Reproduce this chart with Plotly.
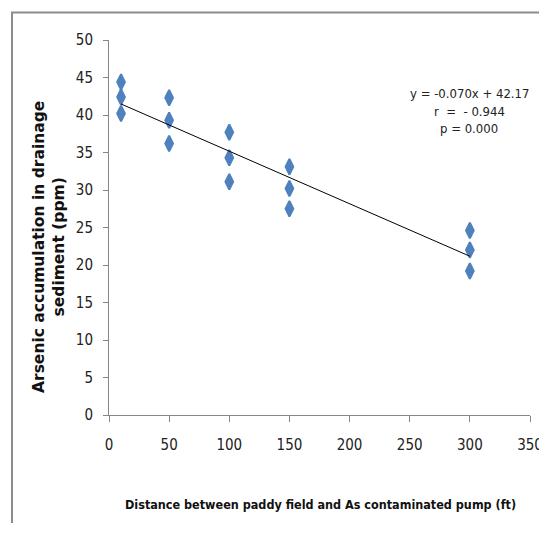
import plotly.graph_objects as go

distance_ft = [10, 10, 10, 50, 50, 50, 100, 100, 100, 150, 150, 150, 300, 300, 300]
arsenic_ppm = [44.4, 42.4, 40.2, 42.3, 39.3, 36.2, 37.7, 34.3, 31.1, 33.1, 30.2, 27.5, 24.6, 22.0, 19.2]
slope = -0.070
intercept = 42.17
trend_x = [min(distance_ft), max(distance_ft)]
trend_y = [slope * v + intercept for v in trend_x]
stats_lines = ["y = -0.070x + 42.17", "r  =  - 0.944", "p = 0.000"]
x_ticks = [0, 50, 100, 150, 200, 250, 300, 350]
y_ticks = [0, 5, 10, 15, 20, 25, 30, 35, 40, 45, 50]

narrow = "DejaVu Sans Condensed, Liberation Sans Narrow, sans-serif"

# page body has an 8px margin: figure pixel = window pixel - 8
W, H = 539, 515
L, R, T, B = 101, 522, 32, 407  # plot area in figure px


def px(xp):
    return (xp - 8 - L) / (R - L)


def py(yp):
    return (B - (yp - 8)) / (B - T)


fig = go.Figure()
fig.add_trace(go.Scatter(
    x=distance_ft, y=arsenic_ppm, mode="markers",
    marker=dict(symbol="diamond-tall", size=11, color="#4F81BD",
                line=dict(color="#4F81BD", width=2)),
    showlegend=False, hoverinfo="x+y"))
fig.add_trace(go.Scatter(
    x=trend_x, y=trend_y, mode="lines",
    line=dict(color="#000000", width=1), showlegend=False, hoverinfo="skip"))

fig.update_layout(
    width=W, height=H,
    margin=dict(l=L, r=W - R, t=T, b=H - B, autoexpand=False),
    paper_bgcolor="white", plot_bgcolor="white",
    font=dict(family=narrow, size=15, color="#222222"),
    xaxis=dict(range=[0, 350], tickvals=x_ticks, showgrid=False, zeroline=False,
               showline=True, linecolor="#868686", linewidth=1, automargin=False,
               ticks="outside", ticklen=6, tickcolor="#868686",
               ticklabelstandoff=10, ticklabeloverflow="allow",
               tickfont=dict(family=narrow, size=15)),
    yaxis=dict(range=[0, 50], tickvals=y_ticks, showgrid=False, zeroline=False,
               showline=True, linecolor="#868686", linewidth=1, automargin=False,
               ticks="outside", ticklen=5, tickcolor="#868686",
               ticklabelstandoff=7, ticklabeloverflow="allow",
               tickfont=dict(family=narrow, size=15)),
    shapes=[dict(type="rect", xref="paper", yref="paper",
                 x0=px(12), x1=px(600), y0=py(600), y1=py(12.5),
                 line=dict(color="#8c8c8c", width=2), fillcolor="rgba(0,0,0,0)", layer="below")],
)

for i, t in enumerate(stats_lines):
    fig.add_annotation(x=px(469), y=py(93 + 18 * i), xref="paper", yref="paper",
                       text=t, showarrow=False, xanchor="center", yanchor="middle",
                       font=dict(family=narrow, size=13, color="#222222"))

fig.add_annotation(x=px(320), y=py(504), xref="paper", yref="paper",
                   text="<b>Distance between paddy field and As contaminated pump (ft)</b>",
                   showarrow=False, xanchor="center", yanchor="middle",
                   font=dict(family=narrow, size=12.5, color="#111111"))
fig.add_annotation(x=px(49), y=py(247), xref="paper", yref="paper",
                   text="<b>Arsenic accumulation in drainage<br>sediment (ppm)</b>",
                   showarrow=False, textangle=-90, xanchor="center", yanchor="middle",
                   font=dict(family="DejaVu Sans, Verdana, sans-serif", size=15.5, color="#111111"))

fig.write_html("out.html")
